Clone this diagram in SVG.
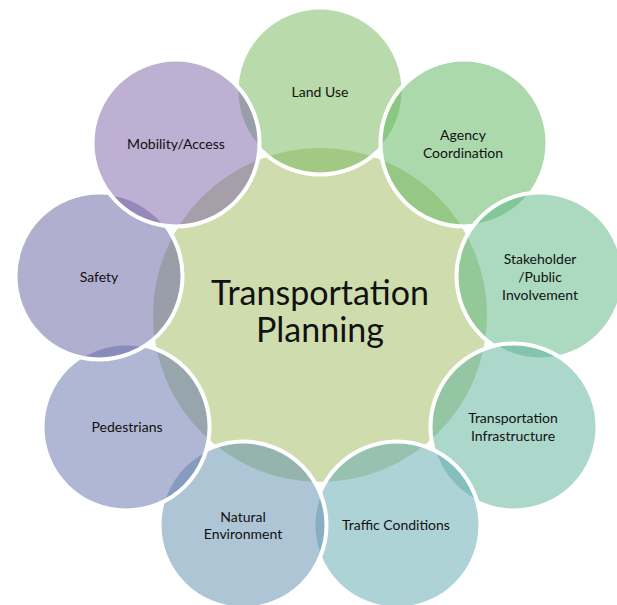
<svg xmlns="http://www.w3.org/2000/svg" width="617" height="605" viewBox="0 0 617 605">
  <style>
    .hub { fill: #CFDDAE; }
    .petal { fill-opacity: 0.5; stroke: #FFFFFF; stroke-width: 4; }
    .lbl { font-family: Lato, "Open Sans", "Liberation Sans", sans-serif; font-size: 14px; fill: #111111; text-anchor: middle; }
    .title { font-family: Lato, "Open Sans", "Liberation Sans", sans-serif; font-size: 34px; fill: #111111; text-anchor: middle; }
  </style>
  <rect width="617" height="605" fill="#FFFFFF"/>

  <g id="hub">
    <circle class="hub" cx="320" cy="315" r="167"/>
    <text class="title" x="320" y="305">Transportation</text>
    <text class="title" x="320" y="342">Planning</text>
  </g>

  <!-- outer ring, 40 degrees apart, drawn clockwise from the top -->
  <g id="land-use">
    <circle class="petal" cx="320" cy="91" r="83.5" fill="#73B557"/>
    <text class="lbl" x="320" y="97">Land Use</text>
  </g>
  <g id="agency-coordination">
    <circle class="petal" cx="464" cy="143" r="83.5" fill="#59B359"/>
    <text class="lbl" x="463" y="140">Agency</text>
    <text class="lbl" x="463" y="158">Coordination</text>
  </g>
  <g id="stakeholder-involvement">
    <circle class="petal" cx="540" cy="276" r="83.5" fill="#57B581"/>
    <text class="lbl" x="540" y="264">Stakeholder</text>
    <text class="lbl" x="540" y="282">/Public</text>
    <text class="lbl" x="540" y="300">Involvement</text>
  </g>
  <g id="transportation-infrastructure">
    <circle class="petal" cx="514" cy="427" r="83.5" fill="#59AF97"/>
    <text class="lbl" x="513" y="423">Transportation</text>
    <text class="lbl" x="513" y="441">Infrastructure</text>
  </g>
  <g id="traffic-conditions">
    <circle class="petal" cx="397" cy="525" r="83.5" fill="#5DA7AF"/>
    <text class="lbl" x="396" y="530">Traffic Conditions</text>
  </g>
  <g id="natural-environment">
    <circle class="petal" cx="243" cy="525" r="83.5" fill="#5D8BAD"/>
    <text class="lbl" x="243" y="522">Natural</text>
    <text class="lbl" x="243" y="539">Environment</text>
  </g>
  <g id="pedestrians">
    <circle class="petal" cx="126" cy="427" r="83.5" fill="#5F6FA9"/>
    <text class="lbl" x="127" y="432">Pedestrians</text>
  </g>
  <g id="safety">
    <circle class="petal" cx="99" cy="276" r="83.5" fill="#635FA1"/>
    <text class="lbl" x="99" y="282">Safety</text>
  </g>
  <g id="mobility-access">
    <circle class="petal" cx="176" cy="143" r="83.5" fill="#7B61A5"/>
    <text class="lbl" x="176" y="149">Mobility/Access</text>
  </g>

  <g id="connectors"/>
</svg>
